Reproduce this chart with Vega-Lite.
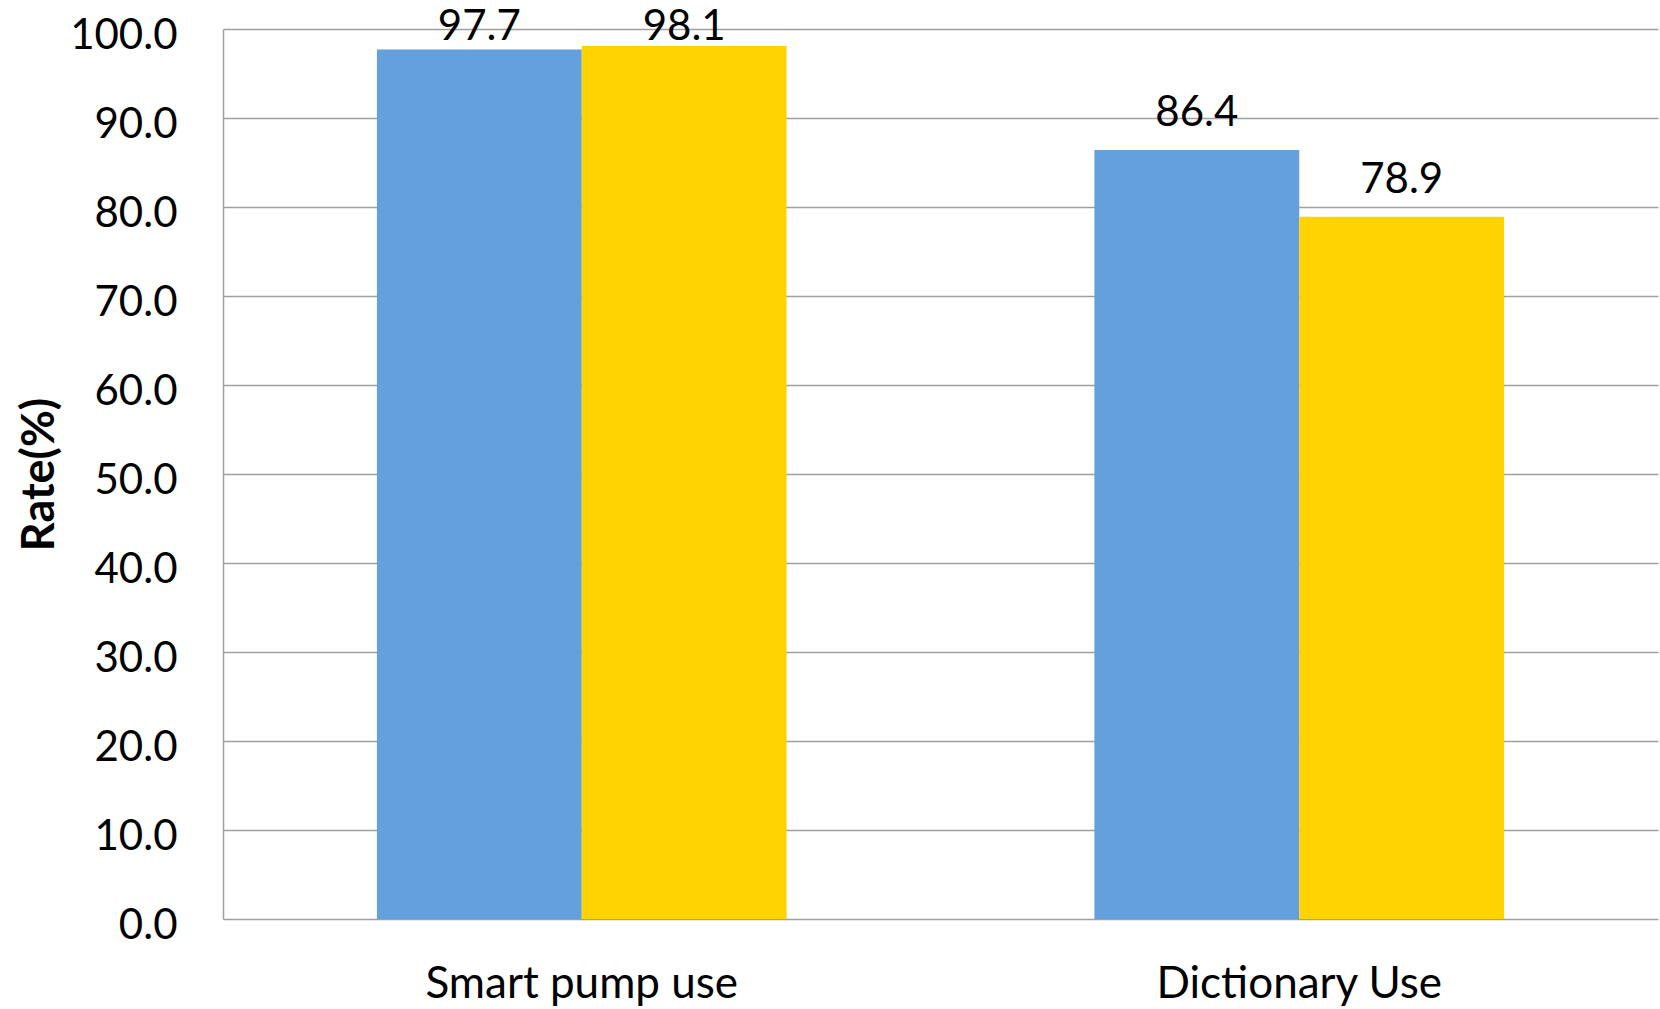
{
  "$schema": "https://vega.github.io/schema/vega-lite/v6.json",
  "width": 1435,
  "height": 890,
  "autosize": {"type": "none"},
  "padding": {"left": 223, "top": 29, "right": 2, "bottom": 90},
  "background": "white",
  "config": {
    "view": {"stroke": null},
    "font": "Lato",
    "axis": {"labelFont": "Lato", "titleFont": "Lato"}
  },
  "data": {
    "values": [
      {"category": "Smart pump use", "series": "Series 1", "rate": 97.7},
      {"category": "Smart pump use", "series": "Series 2", "rate": 98.1},
      {"category": "Dictionary Use", "series": "Series 1", "rate": 86.4},
      {"category": "Dictionary Use", "series": "Series 2", "rate": 78.9}
    ]
  },
  "encoding": {
    "x": {
      "field": "category",
      "type": "nominal",
      "sort": ["Smart pump use", "Dictionary Use"],
      "scale": {"paddingInner": 0.429, "paddingOuter": 0.2145},
      "axis": {
        "title": null,
        "labelAngle": 0,
        "labelFontSize": 44,
        "labelLimit": 0,
        "labelColor": "#000000",
        "labelBaseline": "alphabetic",
        "labelPadding": 78,
        "ticks": false,
        "domain": false
      }
    },
    "xOffset": {
      "field": "series",
      "type": "nominal",
      "sort": ["Series 1", "Series 2"]
    }
  },
  "layer": [
    {
      "mark": {"type": "bar"},
      "encoding": {
        "y": {
          "field": "rate",
          "type": "quantitative",
          "scale": {"domain": [0, 100], "nice": false},
          "axis": {
            "title": "Rate(%)",
            "titleFontSize": 45,
            "titleFontWeight": "bold",
            "titleColor": "#000000",
            "titlePadding": 7,
            "values": [0, 10, 20, 30, 40, 50, 60, 70, 80, 90, 100],
            "format": ".1f",
            "labelFontSize": 42,
            "labelColor": "#000000",
            "labelBaseline": "alphabetic",
            "labelOffset": 19,
            "labelPadding": 46,
            "ticks": false,
            "grid": true,
            "gridColor": "#A0A0A0",
            "gridWidth": 1.5,
            "domainColor": "#A0A0A0",
            "domainWidth": 1.5
          }
        },
        "color": {
          "field": "series",
          "type": "nominal",
          "scale": {"domain": ["Series 1", "Series 2"], "range": ["#64A0DC", "#FFD300"]},
          "legend": null
        }
      }
    },
    {
      "transform": [
        {"calculate": "min(datum.rate, 96.1)", "as": "labelPos"}
      ],
      "mark": {
        "type": "text",
        "baseline": "alphabetic",
        "dy": -24,
        "fontSize": 42,
        "color": "#000000"
      },
      "encoding": {
        "y": {"field": "labelPos", "type": "quantitative"},
        "text": {"field": "rate", "type": "quantitative", "format": ".1f"}
      }
    }
  ]
}
